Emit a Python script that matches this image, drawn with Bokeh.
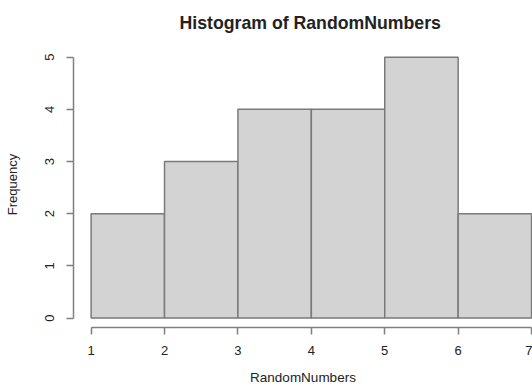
from bokeh.plotting import figure
from bokeh.models import Range1d, FixedTicker
from bokeh.embed import file_html
from bokeh.resources import INLINE

# Data
bin_edges = [1, 2, 3, 4, 5, 6, 7]
counts = [2, 3, 4, 4, 5, 2]
x_ticks = [1, 2, 3, 4, 5, 6, 7]
y_ticks = [0, 1, 2, 3, 4, 5]
title_text = "Histogram of RandomNumbers"
x_label = "RandomNumbers"
y_label = "Frequency"

FONT = "Liberation Sans"
GRAY = "#808080"
TEXT = "#222222"

p = figure(width=532, height=387, output_backend="svg", toolbar_location=None,
           x_range=Range1d(0.76, 7.013), y_range=Range1d(-0.18, 5.3),
           min_border_left=73, min_border_right=0, min_border_top=41,
           min_border_bottom=59, background_fill_color="white",
           border_fill_color="white")
p.outline_line_color = None
p.grid.visible = False

p.quad(left=bin_edges[:-1], right=bin_edges[1:], bottom=0, top=counts,
       fill_color="#d3d3d3", line_color="#7a7a7a", line_width=1.5)

# Title
p.title.text = title_text
p.title.align = "left"
p.title.offset = 106
p.title.text_font = FONT
p.title.text_font_size = "17.7px"
p.title.text_font_style = "bold"
p.title.text_color = TEXT
p.title.standoff = 18

for ax in (p.xaxis[0], p.yaxis[0]):
    ax.axis_line_color = GRAY
    ax.axis_line_width = 1.5
    ax.major_tick_line_color = GRAY
    ax.major_tick_line_width = 1.5
    ax.major_tick_in = 0
    ax.major_tick_out = 7
    ax.minor_tick_line_color = None
    ax.major_label_text_font = FONT
    ax.major_label_text_font_size = "13px"
    ax.major_label_text_color = TEXT
    ax.axis_label_text_font = FONT
    ax.axis_label_text_font_size = "13.5px"
    ax.axis_label_text_font_style = "normal"
    ax.axis_label_text_color = TEXT

p.xaxis.ticker = FixedTicker(ticks=x_ticks)
p.xaxis.bounds = (x_ticks[0], x_ticks[-1])
p.xaxis.major_label_standoff = 11
p.xaxis.axis_label = x_label
p.xaxis.axis_label_standoff = 12

p.yaxis.ticker = FixedTicker(ticks=y_ticks)
p.yaxis.bounds = (y_ticks[0], y_ticks[-1])
p.yaxis.major_label_orientation = "vertical"
p.yaxis.major_label_standoff = 12
p.yaxis.axis_label = y_label
p.yaxis.axis_label_text_font_size = "13px"
p.yaxis.axis_label_standoff = 23

open("out.html", "w").write(file_html(p, INLINE))
